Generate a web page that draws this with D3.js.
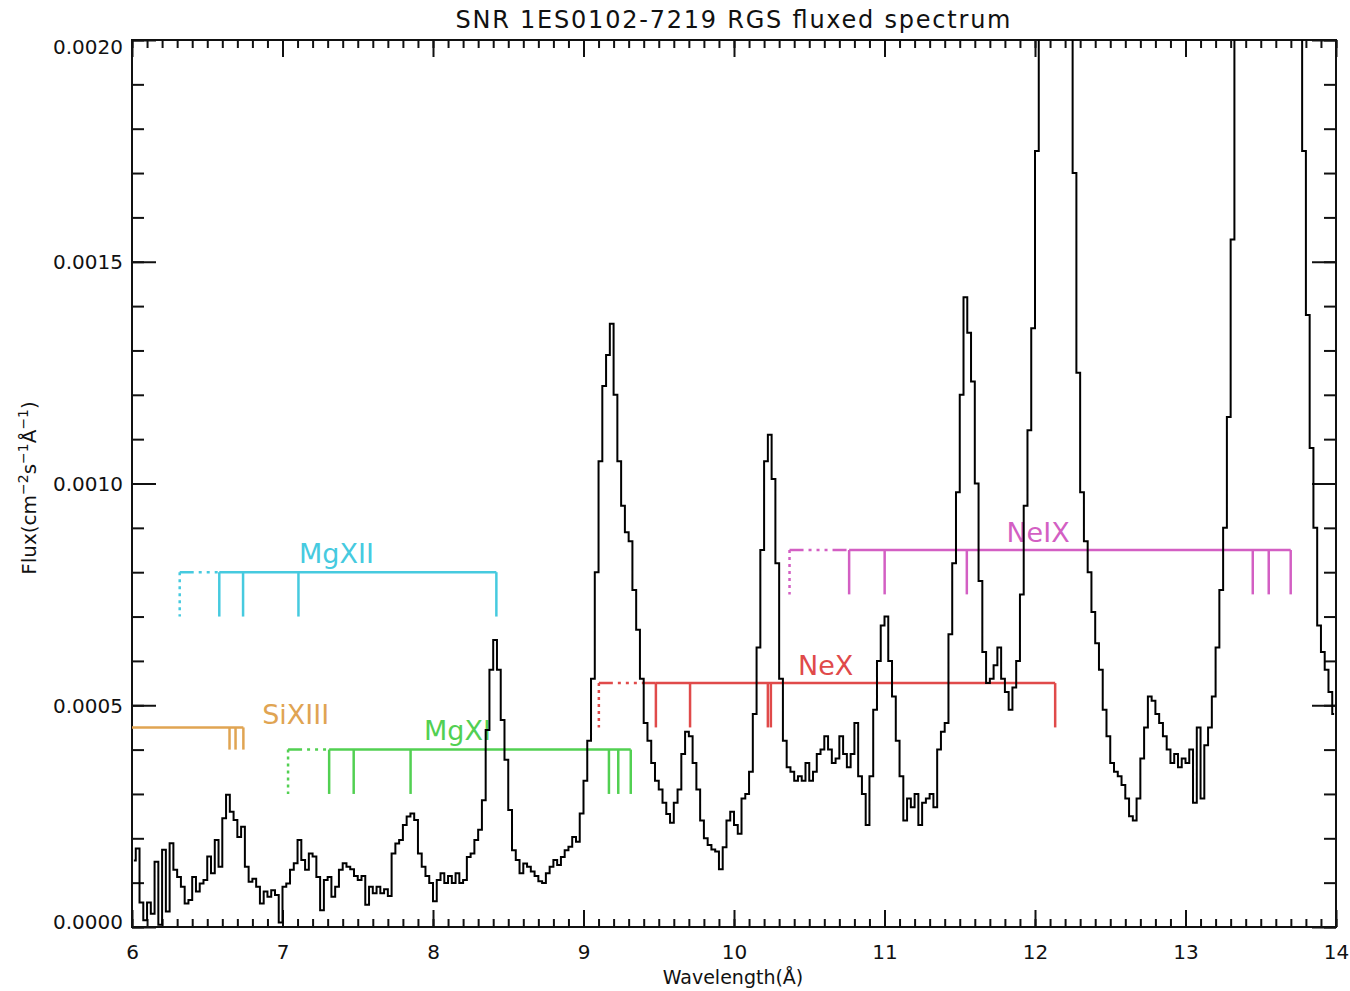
<!DOCTYPE html>
<html>
<head>
<meta charset="utf-8">
<script src="https://cdn.jsdelivr.net/npm/d3@7"></script>
<style>
  body { margin: 0; background: #fff; }
  text { font-family: "DejaVu Sans", sans-serif; fill: #111; }
</style>
</head>
<body>
<svg id="chart" width="1350" height="991"></svg>
<script>
// RGS fluxed spectrum, flux in units of 1e-4 cm^-2 s^-1 A^-1, 0.025 A bins starting at 6.0 A
var binStart = 6.0, binWidth = 0.025, fluxUnit = 1e-4;

var flux6  = [1.5, 1.77, 0.55, 0.15, 0.55, 0.3, 1.47, 0.05, 1.74, 0.35, 1.89, 1.29, 1.13, 0.91, 0.53, 0.61, 1.13, 0.8, 0.98, 1.06,
              1.59, 1.21, 1.96, 1.36, 2.45, 2.98, 2.6, 2.41, 2.03, 2.26, 1.36, 1.02, 1.09, 0.91, 0.53, 0.8, 0.68, 0.83, 0.72, 0.1];
var flux7  = [0.91, 0.98, 1.29, 1.44, 1.96, 1.51, 1.29, 1.66, 1.59, 1.13, 0.38, 1.06, 1.13, 0.68, 0.91, 1.29, 1.44, 1.36, 1.3, 1.15,
              1.06, 1.15, 0.5, 0.91, 0.76, 0.91, 0.76, 0.85, 0.7, 1.66, 1.88, 1.96, 2.3, 2.49, 2.56, 2.41, 1.66, 1.36, 1.15, 0.99];
var flux8  = [0.58, 1.06, 1.21, 0.99, 1.15, 0.99, 1.21, 0.99, 1.06, 1.58, 1.66, 1.96, 2.19, 2.86, 4.44, 5.8, 6.47, 5.8, 4.67, 3.77,
              2.64, 1.73, 1.51, 1.21, 1.43, 1.36, 1.25, 1.15, 1.03, 0.99, 1.21, 1.36, 1.51, 1.4, 1.58, 1.73, 1.81, 2.03, 1.92, 2.56];
var flux9  = [3.3, 4.2, 5.6, 8.0, 10.5, 12.2, 12.9, 13.6, 12.0, 10.5, 9.5, 8.9, 8.7, 7.6, 6.7, 5.6, 4.6, 4.2, 3.7, 3.3,
              3.1, 2.8, 2.55, 2.35, 2.8, 3.1, 3.9, 4.4, 4.3, 3.7, 3.1, 2.4, 2.0, 1.85, 1.75, 1.7, 1.3, 1.8, 2.4, 2.6];
var flux10 = [2.3, 2.1, 2.9, 3.0, 3.5, 4.8, 6.3, 8.5, 10.5, 11.1, 10.1, 8.2, 5.6, 4.2, 3.6, 3.5, 3.3, 3.4, 3.3, 3.7,
              3.3, 3.5, 3.9, 4.0, 4.3, 4.0, 3.7, 3.8, 4.3, 3.9, 3.6, 3.9, 4.6, 3.4, 3.0, 2.3, 3.4, 4.9, 6.0, 6.8];
var flux11 = [7.0, 6.0, 5.2, 4.2, 3.4, 2.4, 2.9, 2.7, 3.0, 2.3, 2.8, 2.9, 3.0, 2.7, 4.0, 4.4, 4.6, 6.6, 8.2, 9.8,
              12.0, 14.2, 13.4, 12.3, 10.0, 7.8, 6.2, 5.5, 5.6, 5.9, 6.3, 5.6, 5.3, 4.9, 5.4, 6.0, 7.5, 9.5, 11.2, 13.5];
// 12.03-12.22 and 13.35-13.75 run off the top of the plot
var flux12 = [17.5, 30, 48, 64, 72, 68, 54, 40, 29, 21, 17, 12.5, 9.8, 8.7, 8.0, 7.1, 6.4, 5.8, 4.9, 4.3,
              3.7, 3.5, 3.4, 3.2, 2.9, 2.5, 2.4, 2.9, 3.8, 4.5, 5.2, 5.1, 4.8, 4.6, 4.3, 4.0, 3.7, 3.9, 3.6, 3.8];
var flux13 = [3.7, 4.0, 2.8, 4.5, 2.9, 4.1, 4.5, 5.2, 6.3, 7.6, 9.0, 11.5, 15.5, 21.5, 26, 32, 38, 44, 48, 46,
              42, 40, 38, 36, 35, 34, 33, 31, 28, 25, 21, 17.5, 13.8, 10.8, 9.0, 6.8, 6.2, 5.8, 5.3, 4.8];

// line identifications (wavelengths in A, levels in 1e-4 flux units)
var ionNames  = ["SiXIII", "MgXII", "MgXI", "NeX", "NeIX"];
var ionLines  = [[6.648, 6.688, 6.740],
                 [6.580, 6.738, 7.106, 8.421],
                 [7.310, 7.473, 7.851, 9.169, 9.231, 9.314],
                 [9.481, 9.708, 10.225, 10.245, 12.134],
                 [10.765, 11.001, 11.547, 13.447, 13.553, 13.699]];
var ionLimits = [null, 6.317, 7.037, 9.102, 10.369];
var ionLevels = [4.5, 8.0, 4.0, 5.5, 8.5];
var ionDrops  = [0.5, 1.0, 1.0, 1.0, 1.0];
var ionLabelAt = [[6.865, 4.58], [7.11, 8.21], [7.94, 4.22], [10.425, 5.68], [11.81, 8.68]];
var ionColors = ["#e0a452", "#46cadf", "#52d052", "#e04a4a", "#d35fc3"];

var xTicks = [6, 7, 8, 9, 10, 11, 12, 13, 14];
var yTicks = [0, 0.0005, 0.0010, 0.0015, 0.0020];

var svg = d3.select("#chart");
var x = d3.scaleLinear().domain([6, 14]).range([132, 1336]);
var y = d3.scaleLinear().domain([0, 0.002]).range([927, 40]);

svg.append("rect").attr("width", 1350).attr("height", 991).attr("fill", "#fff");

svg.append("clipPath").attr("id", "plotclip")
  .append("rect").attr("x", 132).attr("y", 40).attr("width", 1204).attr("height", 887);

// ---- axes: major and minor ticks on all four sides, pointing inwards
var minorX = d3.range(60, 141).map(function(d) { return d / 10; });
var minorY = d3.range(0, 21).map(function(d) { return d / 10000; });

function addAxis(axis, tx, ty) {
  var g = svg.append("g").attr("transform", "translate(" + tx + "," + ty + ")").call(axis);
  g.select(".domain").remove();
  g.selectAll(".tick line").attr("stroke", "#111").attr("stroke-width", 2);
  g.selectAll("text").attr("font-size", 20).attr("fill", "#111");
  return g;
}

addAxis(d3.axisBottom(x).tickValues(minorX).tickSizeInner(-8).tickSizeOuter(0).tickFormat(""), 0, 927);
addAxis(d3.axisTop(x).tickValues(minorX).tickSizeInner(-8).tickSizeOuter(0).tickFormat(""), 0, 40);
addAxis(d3.axisBottom(x).tickValues(xTicks).tickSizeInner(-17).tickSizeOuter(0).tickPadding(18)
  .tickFormat(d3.format("d")), 0, 927);
addAxis(d3.axisTop(x).tickValues(xTicks).tickSizeInner(-17).tickSizeOuter(0).tickFormat(""), 0, 40);

addAxis(d3.axisLeft(y).tickValues(minorY).tickSizeInner(-12).tickSizeOuter(0).tickFormat(""), 132, 0);
addAxis(d3.axisRight(y).tickValues(minorY).tickSizeInner(-12).tickSizeOuter(0).tickFormat(""), 1336, 0);
var yAx = addAxis(d3.axisLeft(y).tickValues(yTicks).tickSizeInner(-24).tickSizeOuter(0).tickPadding(9)
  .tickFormat(d3.format(".4f")), 132, 0);
addAxis(d3.axisRight(y).tickValues(yTicks).tickSizeInner(-24).tickSizeOuter(0).tickFormat(""), 1336, 0);
// IDL pulls the end labels inside the box
yAx.selectAll("text").attr("dy", function(d) {
  return d === 0 ? "0.05em" : (d === 0.002 ? "0.68em" : "0.34em");
});

svg.append("rect").attr("x", 132).attr("y", 40).attr("width", 1204).attr("height", 887)
  .attr("fill", "none").attr("stroke", "#111").attr("stroke-width", 2);

// ---- line identification brackets
var ions = svg.append("g");
ionNames.forEach(function(name, i) {
  var col = ionColors[i], lines = ionLines[i];
  var lev = ionLevels[i] * fluxUnit, bot = (ionLevels[i] - ionDrops[i]) * fluxUnit;
  var g = ions.append("g").attr("stroke", col).attr("fill", "none").attr("stroke-width", 2.5);
  var first = lines[0], last = lines[lines.length - 1];
  var start = ionLimits[i] === null ? x.domain()[0] : ionLimits[i];
  if (ionLimits[i] !== null) {
    g.append("line").attr("x1", x(start)).attr("x2", x(first)).attr("y1", y(lev)).attr("y2", y(lev))
      .attr("stroke-dasharray", "14,5,3,5,3,5,3,5");
    g.append("line").attr("x1", x(start)).attr("x2", x(start)).attr("y1", y(lev)).attr("y2", y(bot))
      .attr("stroke-dasharray", "3,4");
    g.append("line").attr("x1", x(first)).attr("x2", x(last)).attr("y1", y(lev)).attr("y2", y(lev));
  } else {
    g.append("line").attr("x1", x(start)).attr("x2", x(last)).attr("y1", y(lev)).attr("y2", y(lev));
  }
  g.selectAll("line.tick").data(lines).enter().append("line").attr("class", "tick")
    .attr("x1", function(d) { return x(d); }).attr("x2", function(d) { return x(d); })
    .attr("y1", y(lev)).attr("y2", y(bot));
  ions.append("text").attr("x", x(ionLabelAt[i][0])).attr("y", y(ionLabelAt[i][1] * fluxUnit))
    .attr("font-size", 27).style("fill", col).text(name);
});

// ---- spectrum as a histogram (steps at bin edges)
var flux = [].concat(flux6, flux7, flux8, flux9, flux10, flux11, flux12, flux13);
var pts = flux.map(function(v, i) { return [binStart + (i + 0.5) * binWidth, v * fluxUnit]; });
var line = d3.line().x(function(d) { return x(d[0]); }).y(function(d) { return y(d[1]); }).curve(d3.curveStep);
svg.append("path").datum(pts).attr("clip-path", "url(#plotclip)")
  .attr("d", line).attr("fill", "none").attr("stroke", "#000").attr("stroke-width", 2)
  .attr("stroke-linejoin", "miter");

// ---- titles
svg.append("text").attr("x", 733).attr("y", 28).attr("text-anchor", "middle").attr("font-size", 24)
  .attr("textLength", 555).text("SNR 1ES0102-7219 RGS fluxed spectrum");

svg.append("text").attr("x", 733).attr("y", 984).attr("text-anchor", "middle").attr("font-size", 19)
  .text("Wavelength(Å)");

var yl = svg.append("text").attr("transform", "translate(36,488) rotate(-90)")
  .attr("text-anchor", "middle").attr("font-size", 20);
yl.append("tspan").text("Flux(cm");
yl.append("tspan").attr("dy", -8).attr("font-size", 14).text("−2");
yl.append("tspan").attr("dy", 8).text("s");
yl.append("tspan").attr("dy", -8).attr("font-size", 14).text("−1");
yl.append("tspan").attr("dy", 8).text("Å");
yl.append("tspan").attr("dy", -8).attr("font-size", 14).text("−1");
yl.append("tspan").attr("dy", 8).text(")");
</script>
</body>
</html>
